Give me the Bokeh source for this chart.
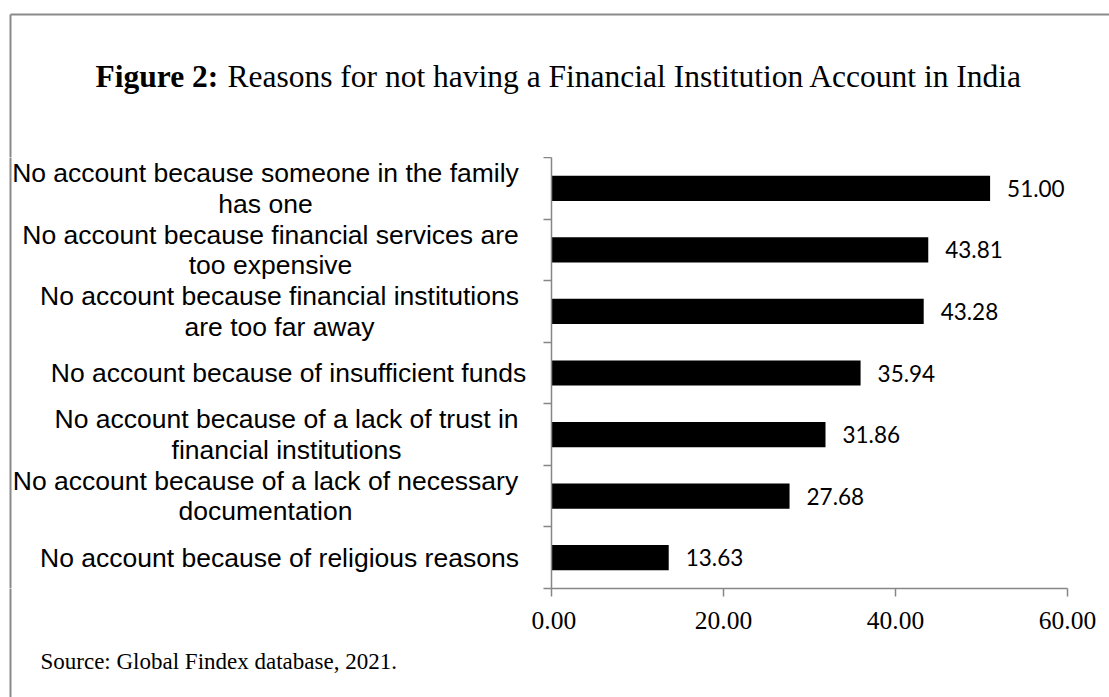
from bokeh.plotting import figure
from bokeh.layouts import column, row
from bokeh.models import Range1d, FixedTicker, NumeralTickFormatter, ColumnDataSource
from bokeh.embed import file_html
from bokeh.resources import INLINE
from bokeh.core.properties import value

# ---- data (top to bottom) ----
categories = [
    "No account because someone in the family\nhas one",
    "No account because financial services are\ntoo expensive",
    "No account because financial institutions\nare too far away",
    "No account because of insufficient funds",
    "No account because of a lack of trust in\nfinancial institutions",
    "No account because of a lack of necessary\ndocumentation",
    "No account because of religious reasons",
]
values = [51.00, 43.81, 43.28, 35.94, 31.86, 27.68, 13.63]
x_ticks = [0, 20, 40, 60]
title_bold = "Figure 2:"
title_rest = "Reasons for not having a Financial Institution Account in India"
source_text = "Source: Global Findex database, 2021."

# ---- layout (canvas pixels) ----
W, H = 1109, 697
FL, FR, FT, FB = 551, 1067, 157, 588       # frame edges of the bar chart
AXW = 20                                    # room for the y-axis ticks
LW = FL - AXW                               # width of the category-label panel
label_centers = [265, 270, 279, 288, 286, 265, 279]
BORDER = "#8a8a8a"

n = len(categories)
ypos = [n - 1 - i + 0.5 for i in range(n)]
src = ColumnDataSource(dict(y=ypos, v=values, lab=["%.2f" % v for v in values],
                            cat=categories, cx=label_centers))
yr = Range1d(0, n)


def blank(w, h, xr, yrng):
    f = figure(width=w, height=h, output_backend="svg", toolbar_location=None,
               x_range=xr, y_range=yrng, x_axis_location=None, y_axis_location=None,
               min_border=0)
    f.outline_line_color = None
    f.grid.visible = False
    f.background_fill_color = "white"
    f.border_fill_color = "white"
    return f


# ---- title panel (canvas y 0..FT) ----
T = blank(W, FT, Range1d(0, W), Range1d(FT, 0))
T.segment(x0=[10], y0=[14], x1=[W], y1=[14], line_color=BORDER, line_width=2)
T.segment(x0=[10], y0=[14], x1=[10], y1=[FT + 2], line_color=BORDER, line_width=2)
T.text(x=[95], y=[76], text=[title_bold], text_font=value("Liberation Serif"),
       text_font_style="bold", text_font_size="31.5px", text_baseline="alphabetic",
       text_color="black")
T.text(x=[227], y=[76], text=[title_rest], text_font=value("Liberation Serif"),
       text_font_size="31.5px", text_baseline="alphabetic", text_color="black")

# ---- category label panel (canvas y FT..FB) ----
L = blank(LW, FB - FT, Range1d(0, LW), yr)
L.segment(x0=[10], y0=[-0.1], x1=[10], y1=[n + 0.1], line_color=BORDER, line_width=2)
L.text(x="cx", y="y", text="cat", source=src, text_align="center",
       text_baseline="middle", text_font=value("Liberation Sans"),
       text_font_size="26.5px", text_line_height=1.02, text_color="black")

# ---- source panel (canvas y FB..H) ----
B = blank(LW, H - FB, Range1d(0, LW), Range1d(H, FB))
B.segment(x0=[10], y0=[FB - 2], x1=[10], y1=[H], line_color=BORDER, line_width=2)
B.text(x=[40], y=[661], text=[source_text], text_font=value("Liberation Serif"),
       text_font_size="23px", text_baseline="alphabetic", text_color="black")

# ---- bar chart ----
p = figure(width=W - LW, height=H - FT, output_backend="svg", toolbar_location=None,
           x_range=Range1d(0, 60), y_range=yr,
           min_border_left=AXW, min_border_right=W - FR,
           min_border_top=0, min_border_bottom=H - FB)
p.outline_line_color = None
p.grid.visible = False
p.background_fill_color = "white"
p.border_fill_color = "white"

p.hbar(y="y", right="v", left=0, height=0.41, source=src,
       fill_color="black", line_color=None)
p.text(x="v", y="y", text="lab", source=src, x_offset=17,
       text_baseline="middle", text_align="left",
       text_font=value("Lato"), text_font_size="22.5px", text_color="black")

axis_col = "#868686"
xa = p.xaxis[0]
xa.ticker = FixedTicker(ticks=x_ticks)
xa.formatter = NumeralTickFormatter(format="0.00")
xa.axis_line_color = axis_col
xa.axis_line_width = 1.5
xa.major_tick_line_color = axis_col
xa.major_tick_line_width = 1.5
xa.major_tick_out = 8
xa.major_tick_in = 0
xa.minor_tick_line_color = None
xa.major_label_text_font = "Liberation Serif"
xa.major_label_text_font_size = "25.5px"
xa.major_label_text_color = "black"
xa.major_label_standoff = 15

ya = p.yaxis[0]
ya.ticker = FixedTicker(ticks=ypos, minor_ticks=list(range(n + 1)))
ya.major_label_overrides = {y: "" for y in ypos}
ya.axis_line_color = axis_col
ya.axis_line_width = 1.5
ya.major_tick_line_color = None
ya.major_tick_out = 0
ya.major_tick_in = 0
ya.minor_tick_line_color = axis_col
ya.minor_tick_line_width = 1.5
ya.minor_tick_out = 8
ya.minor_tick_in = 0
ya.major_label_standoff = 0

layout = column(T, row(column(L, B), p))
open("out.html", "w").write(file_html(layout, INLINE))
